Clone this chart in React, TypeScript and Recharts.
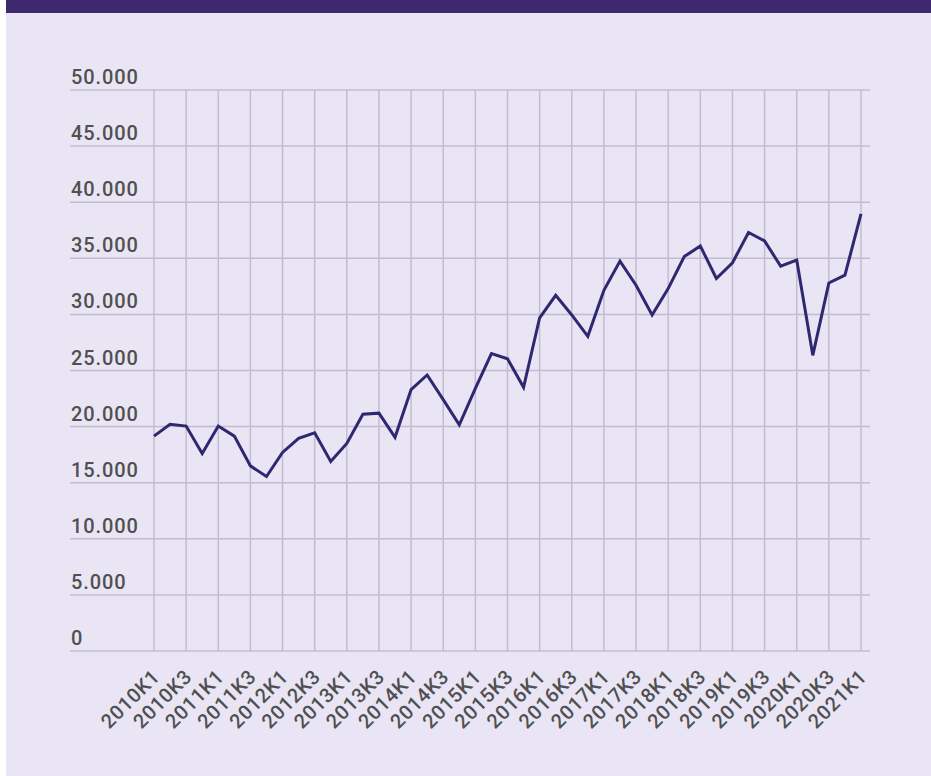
import React from "react";
import { LineChart, Line, XAxis, YAxis, CartesianGrid, ReferenceLine } from "recharts";

const quarters = [
  "2010K1","2010K2","2010K3","2010K4",
  "2011K1","2011K2","2011K3","2011K4",
  "2012K1","2012K2","2012K3","2012K4",
  "2013K1","2013K2","2013K3","2013K4",
  "2014K1","2014K2","2014K3","2014K4",
  "2015K1","2015K2","2015K3","2015K4",
  "2016K1","2016K2","2016K3","2016K4",
  "2017K1","2017K2","2017K3","2017K4",
  "2018K1","2018K2","2018K3","2018K4",
  "2019K1","2019K2","2019K3","2019K4",
  "2020K1","2020K2","2020K3","2020K4",
  "2021K1",
];

const values = [
  19150, 20200, 20050, 17600,
  20050, 19150, 16500, 15550,
  17700, 18950, 19450, 16900,
  18500, 21100, 21200, 19050,
  23300, 24600, 22400, 20150,
  23400, 26500, 26050, 23500,
  29700, 31700, 29950, 28050,
  32150, 34750, 32600, 29950,
  32300, 35150, 36100, 33200,
  34600, 37300, 36550, 34300,
  34850, 26350, 32800, 33500,
  38950,
];

const tickLabels = [
  "2010K1","2010K3","2011K1","2011K3","2012K1","2012K3","2013K1","2013K3",
  "2014K1","2014K3","2015K1","2015K3","2016K1","2016K3","2017K1","2017K3",
  "2018K1","2018K3","2019K1","2019K3","2020K1","2020K3","2021K1",
];

const yTicks = [0, 5000, 10000, 15000, 20000, 25000, 30000, 35000, 40000, 45000, 50000];

const data = quarters.map((q, i) => ({ q, v: values[i] }));

const fmt = (n: number) => n.toLocaleString("de-DE");

const GRID = "#c3bccf";
const TEXT = "#505050";

const YTick = (props: any) => {
  const { y, payload } = props;
  return (
    <text
      x={71}
      y={Number(y) - 6}
      fill={TEXT}
      fontSize={20}
      fontWeight={500}
      fontFamily="Roboto"
      letterSpacing={0.9}
      textAnchor="start"
    >
      {fmt(payload.value)}
    </text>
  );
};

const XTick = (props: any) => {
  const { x, y, payload } = props;
  const ax = Number(x) + 7;
  const ay = Number(y) + 19;
  return (
    <text
      x={ax}
      y={ay}
      fill={TEXT}
      fontSize={20}
      fontWeight={500}
      fontFamily="Roboto"
      letterSpacing={0.6}
      textAnchor="end"
      transform={`rotate(-45, ${ax}, ${ay})`}
    >
      {payload.value}
    </text>
  );
};

export default function App() {
  return (
    <div
      style={{
        position: "absolute",
        left: 6,
        top: 0,
        width: 925,
        height: 776,
        background: "#e9e5f5",
      }}
    >
      <div style={{ height: 13, background: "#402870" }} />
      <div style={{ position: "absolute", left: -6, top: 0 }}>
        <LineChart
          width={931}
          height={776}
          data={data}
          margin={{ top: 90, right: 61, bottom: 0, left: 69 }}
        >
          <CartesianGrid stroke={GRID} strokeWidth={1.5} vertical={false} />
          {tickLabels.map((t) => (
            <ReferenceLine key={t} x={t} stroke={GRID} strokeWidth={1.5} />
          ))}
          <XAxis
            dataKey="q"
            ticks={tickLabels}
            interval={0}
            padding={{ left: 84, right: 9 }}
            axisLine={false}
            tickLine={false}
            tick={<XTick />}
            height={125}
          />
          <YAxis
            domain={[0, 50000]}
            ticks={yTicks}
            interval={0}
            width={1}
            axisLine={false}
            tickLine={false}
            tick={<YTick />}
          />
          <Line
            type="linear"
            dataKey="v"
            stroke="#2d2870"
            strokeWidth={3}
            dot={false}
            isAnimationActive={false}
          />
        </LineChart>
      </div>
    </div>
  );
}
